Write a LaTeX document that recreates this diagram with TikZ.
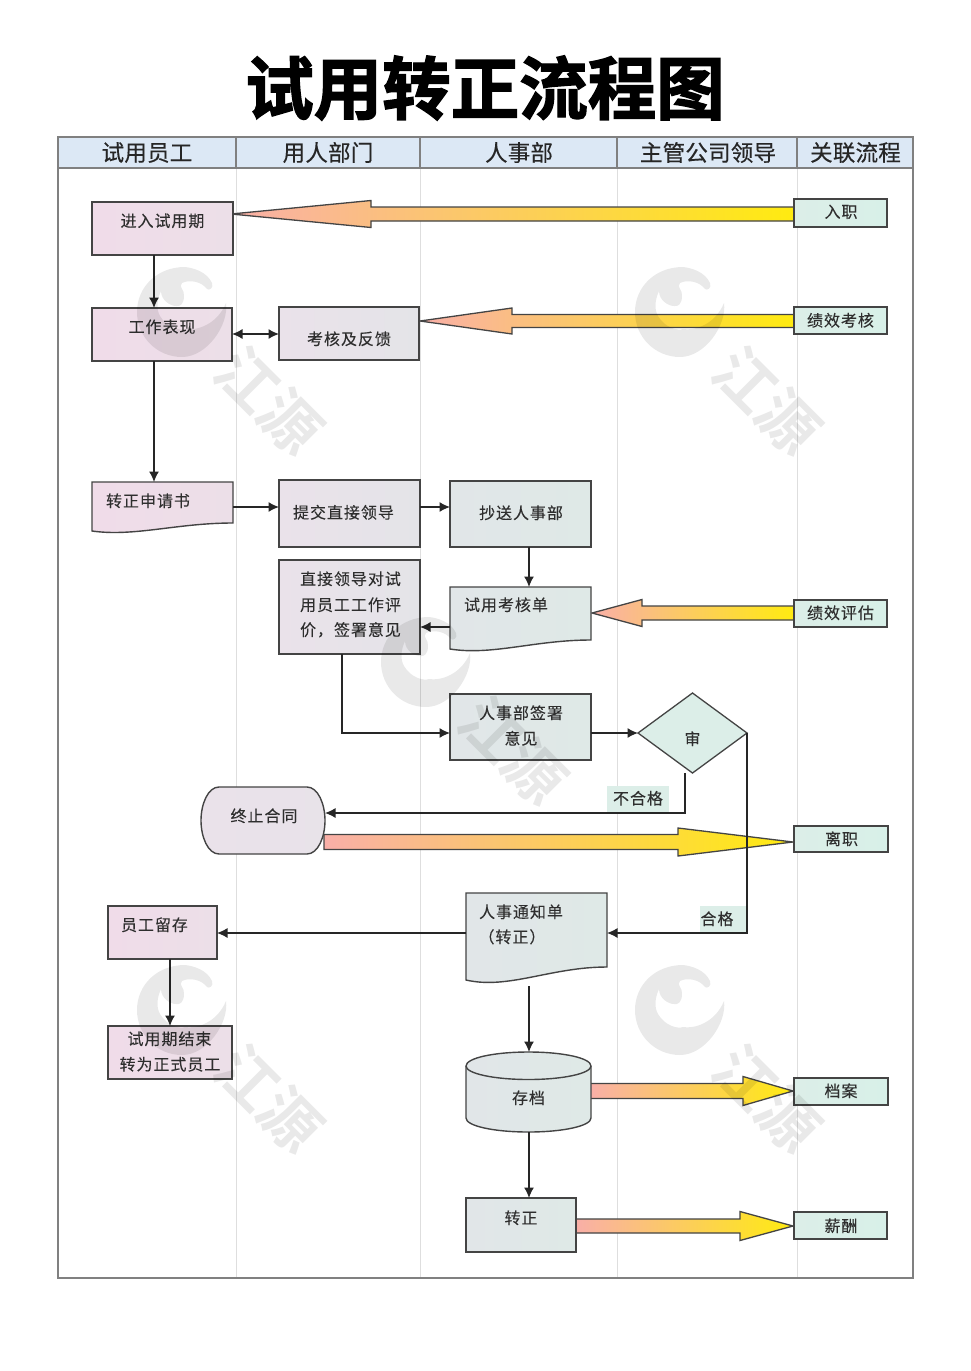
\documentclass[tikz,border=0pt]{standalone}
\usepackage{fontspec}
\usetikzlibrary{arrows.meta,shapes.geometric,calc}
\setmainfont{Noto Sans CJK SC}
\newfontfamily\titlefont[FakeBold=2]{Noto Sans CJK SC Bold}
\newfontfamily\headfont[LetterSpace=1,FakeBold=.35]{Noto Sans CJK SC}
\newfontfamily\bodyfont[LetterSpace=6,FakeBold=.1]{Noto Sans CJK SC}
\newfontfamily\markfont{Noto Sans CJK SC Bold}
\definecolor{lnk}{HTML}{444444}
\definecolor{txt}{HTML}{2E2E2E}
\definecolor{headbg}{HTML}{DCE8F5}
\definecolor{frame}{HTML}{808080}
\definecolor{lane}{HTML}{DEDEDE}
\definecolor{pkA}{HTML}{F0DCE9}
\definecolor{pkB}{HTML}{ECDFE8}
\definecolor{mdA}{HTML}{EAE2EA}
\definecolor{mdB}{HTML}{E4E4E8}
\definecolor{grA}{HTML}{E1E6E8}
\definecolor{grB}{HTML}{DFE9E7}
\definecolor{gnA}{HTML}{DCEEE8}
\definecolor{gnB}{HTML}{D8F0E8}
\definecolor{fatP}{HTML}{F9AFA8}
\definecolor{fatM}{HTML}{FDD27A}
\definecolor{fatY}{HTML}{FFEB10}
\tikzset{
  x=1pt,y=-1pt,
  boxn/.style={inner sep=0pt,outer sep=0pt},
  docline/.style={draw=lnk,line width=1.4pt,line join=miter},
  lab/.style={font=\bodyfont\fontsize{16}{17}\selectfont,text=txt,inner sep=0pt,yshift=.2pt},
  hdr/.style={font=\headfont\fontsize{22.5}{24}\selectfont,text=black!85,inner sep=0pt},
  tag/.style={fill=gnA,inner sep=0pt,outer sep=0pt},
  link/.style={draw=black!85,line width=1.25pt,-{Latex[length=10.5pt,width=10pt]}},
  fat/.style={draw=lnk,line width=1.3pt,left color=fatP,middle color=fatM,right color=fatY,line join=miter},
  wm/.style={fill=black,fill opacity=.085,draw=none},
}
% name, x1, y1, x2, y2, leftcolor, rightcolor
\newcommand\bx[7]{%
  \pgfmathsetmacro\bw{#4-#2}\pgfmathsetmacro\bh{#5-#3}%
  \pgfmathsetmacro\bcx{(#4+#2)/2}\pgfmathsetmacro\bcy{(#5+#3)/2}%
  \node[boxn,left color=#6,right color=#7,minimum width=\bw pt,minimum height=\bh pt] (#1) at (\bcx,\bcy) {};
  \draw[docline] (#1.north west) rectangle (#1.south east);}
% name, x1, y1, x2, yleft, yright, leftcolor, rightcolor
\newcommand\docn[8]{%
  \pgfmathsetmacro\bw{#4-#2}\pgfmathsetmacro\bh{#5-#3}%
  \pgfmathsetmacro\bcx{(#4+#2)/2}\pgfmathsetmacro\bcy{(#5+#3)/2}%
  \pgfmathsetmacro\cax{#2+.3*\bw}\pgfmathsetmacro\cbx{#2+.6*\bw}%
  \pgfmathsetmacro\cay{#5+.75*(#5-#6)}%
  \node[inner sep=0pt,outer sep=0pt,minimum width=\bw pt,minimum height=\bh pt] (#1) at (\bcx,\bcy) {};
  \shade[left color=#7,right color=#8] (#2,#3) -- (#4,#3) -- (#4,#6) .. controls (\cbx,#6) and (\cax,\cay) .. (#2,#5) -- cycle;
  \draw[docline] (#2,#3) -- (#4,#3) -- (#4,#6) .. controls (\cbx,#6) and (\cax,\cay) .. (#2,#5) -- cycle;}
% tip coord, tail coord, signed head length, head half height, shaft half height
\newcommand\fatarrow[5]{%
  \shade[fat] let \p1=(#1),\p2=(#2) in
    (\x1,\y1) -- (\x1+#3pt,\y1+#4pt) -- (\x1+#3pt,\y1+#5pt) -- (\x2,\y2+#5pt) --
    (\x2,\y2-#5pt) -- (\x1+#3pt,\y1-#5pt) -- (\x1+#3pt,\y1-#4pt) -- cycle;}
% watermark: swirl centred at #1,#2
\newcommand\watermark[3]{%
  \begin{scope}[shift={(#1,#2)}]
    \fill[wm] (44,-9) .. controls (47,13) and (25,45) .. (0,45)
      .. controls (-25,45) and (-45,25) .. (-45,0)
      .. controls (-45,-25) and (-25,-45) .. (3,-45)
      .. controls (12,-44) and (25,-40) .. (30,-29)
      .. controls (32,-24) and (27,-21) .. (25,-23)
      .. controls (20,-30) and (8,-33) .. (0,-29)
      .. controls (-4,-25) and (3,-22) .. (2,-16)
      .. controls (2,-8) and (-2,-5) .. (-6,-6)
      .. controls (-12,-6) and (-21,-12) .. (-21,-21)
      .. controls (-25,-12) and (-26,-3) .. (-22,4)
      .. controls (-15,16) and (-2,19) .. (3,17)
      .. controls (14,19) and (35,13) .. (44,-9) -- cycle;
    \node[rotate=-45,font=\markfont\fontsize{60}{62}\selectfont,text=black,text opacity=.085,inner sep=0pt] (#3) at (87,89) {江源};
  \end{scope}}
\begin{document}
\begin{tikzpicture}
\useasboundingbox (0,0) rectangle (970,1371);
\fill[white] (0,0) rectangle (970,1371);
% title
\node[font=\titlefont\fontsize{68.5}{70}\selectfont,text=black,inner sep=0pt] (title) at (485,88) {试用转正流程图};
% swimlanes
\coordinate (frameTL) at (58,137);
\coordinate (frameBR) at (913,1278);
\fill[headbg] (58,137) rectangle (913,168);
\foreach \lx in {236,420,617,797} \draw[lane,line width=1pt] (\lx,168) -- (\lx,1278);
\draw[frame,line width=1.3pt] (frameTL) rectangle (frameBR);
\draw[frame,line width=1.3pt] (58,168) -- (913,168);
\foreach \lx in {236,420,617,797} \draw[frame,line width=1.2pt] (\lx,137) -- (\lx,168);
\node[hdr] (h1) at (147,152.5) {试用员工};
\node[hdr] (h2) at (328,152.5) {用人部门};
\node[hdr] (h3) at (519,152.5) {人事部};
\node[hdr] (h4) at (708,152.5) {主管公司领导};
\node[hdr] (h5) at (855.5,152.5) {关联流程};
% coordinates for the fat arrows
\coordinate (t1) at (231,214); \coordinate (s1) at (795,214);
\coordinate (t2) at (420,321); \coordinate (s2) at (795,321);
\coordinate (t3) at (592,613); \coordinate (s3) at (795,613);
\coordinate (t4) at (793,842); \coordinate (s4) at (324,842);
\coordinate (t5) at (793,1091); \coordinate (s5) at (590,1091);
\coordinate (t6) at (793,1226); \coordinate (s6) at (576,1226);
\fatarrow{t1}{s1}{140}{13.5}{7}
\fatarrow{t2}{s2}{92}{13}{6.5}
\fatarrow{t3}{s3}{50}{13.5}{7}
\fatarrow{t4}{s4}{-115}{14}{7.5}
\fatarrow{t5}{s5}{-50}{14.5}{7.5}
\fatarrow{t6}{s6}{-53}{14.5}{7}
% column 1
\bx{entry}{92}{202}{233}{255}{pkA}{pkB}
\bx{work}{92}{308}{232}{361}{pkA}{pkB}
\docn{apply}{92}{482}{233}{531}{523}{pkA}{pkB}
\bx{keep}{108}{906}{217}{959}{pkA}{pkB}
\bx{finish}{108}{1026}{232}{1079}{pkA}{pkB}
% column 2
\bx{review}{279}{307}{419}{360}{mdA}{mdB}
\bx{submit}{279}{480}{420}{547}{mdA}{mdB}
\bx{assess}{279}{560}{420}{654}{mdA}{mdB}
\node[inner sep=0pt,outer sep=0pt,minimum width=124pt,minimum height=67pt] (stop) at (263,820.5) {};
\draw[docline,left color=mdA,right color=mdA!70!mdB] (219,787) -- (307,787) .. controls (318,787) and (325,804) .. (325,820.5) .. controls (325,837) and (318,854) .. (307,854) -- (219,854) .. controls (208,854) and (201,837) .. (201,820.5) .. controls (201,804) and (208,787) .. (219,787) -- cycle;
% column 3
\bx{copy}{450}{481}{591}{547}{grA}{grB}
\docn{form}{450}{587}{591}{649}{640}{grA}{grB}
\bx{hrsign}{450}{694}{591}{760}{grA}{grB}
\docn{notice}{466}{893}{607}{980}{967}{grA}{grB}
\bx{regular}{466}{1198}{576}{1252}{grA}{grB}
% archive cylinder
\node[inner sep=0pt,outer sep=0pt,minimum width=125pt,minimum height=80pt] (archive) at (528.5,1092) {};
\shade[left color=grA,right color=grB] (466,1066) -- (466,1118) .. controls (466,1126) and (494,1132) .. (528.5,1132) .. controls (563,1132) and (591,1126) .. (591,1118) -- (591,1066) .. controls (591,1058) and (563,1052) .. (528.5,1052) .. controls (494,1052) and (466,1058) .. (466,1066) -- cycle;
\draw[docline] (466,1066) -- (466,1118) .. controls (466,1126) and (494,1132) .. (528.5,1132) .. controls (563,1132) and (591,1126) .. (591,1118) -- (591,1066) .. controls (591,1058) and (563,1052) .. (528.5,1052) .. controls (494,1052) and (466,1058) .. (466,1066) -- cycle;
\draw[docline] (466,1066) .. controls (466,1073.5) and (494,1079.5) .. (528.5,1079.5) .. controls (563,1079.5) and (591,1073.5) .. (591,1066);
% decision
\node[diamond,draw=lnk,line width=1.3pt,fill=gnA,inner sep=0pt,outer sep=0pt,minimum width=109pt,minimum height=80pt,aspect=1.36] (check) at (692.5,733) {};
% right column
\bx{r1}{794}{199}{887}{227}{gnA}{gnB}
\bx{r2}{794}{307}{887}{334}{gnA}{gnB}
\bx{r3}{794}{600}{887}{627}{gnA}{gnB}
\bx{r4}{794}{826}{888}{852}{gnA}{gnB}
\bx{r5}{794}{1078}{888}{1105}{gnA}{gnB}
\bx{r6}{794}{1212}{887}{1239}{gnA}{gnB}
% edge labels (backgrounds)
\node[tag,minimum width=62pt,minimum height=27pt] (failbg) at (638,799.5) {};
\node[tag,minimum width=46pt,minimum height=27pt] (passbg) at (723,919.5) {};
% connectors
\draw[link] (154,0 |- entry.south) -- (154,0 |- work.north);
\draw[link] (154,0 |- work.south) -- (154,0 |- apply.north);
\draw[link,{Latex[length=10.5pt,width=10pt]}-{Latex[length=10.5pt,width=10pt]}] (work.east |- 0,334) -- (review.west |- 0,334);
\draw[link] (apply.east |- 0,507) -- (submit.west |- 0,507);
\draw[link] (submit.east |- 0,507) -- (copy.west |- 0,507);
\draw[link] (529,0 |- copy.south) -- (529,0 |- form.north);
\draw[link] (form.west |- 0,627) -- (assess.east |- 0,627);
\draw[link] (342,0 |- assess.south) |- (hrsign.west |- 0,733);
\draw[link] (hrsign.east |- 0,733) -- (check.west);
\draw[link] (685,773) |- (stop.east |- 0,813);
\draw[link] (check.east) |- (notice.east |- 0,933);
\draw[link] (notice.west |- 0,933) -- (keep.east |- 0,933);
\draw[link] (170,0 |- keep.south) -- (170,0 |- finish.north);
\coordinate (noticeOut) at (529,986);
\draw[link] (noticeOut) -- (529,0 |- archive.north);
\draw[link] (529,0 |- archive.south) -- (529,0 |- regular.north);
% texts
\node[lab] (l1) at (162.5,221) {进入试用期};
\node[lab] (l2) at (162,327) {工作表现};
\node[lab] (l3) at (349,339) {考核及反馈};
\node[lab] (l4) at (148,501) {转正申请书};
\node[lab] (l5) at (343.5,512.5) {提交直接领导};
\node[lab] (l6) at (521,513) {抄送人事部};
\node[lab] (l7a) at (350.5,579) {直接领导对试};
\node[lab] (l7b) at (350.5,605) {用员工工作评};
\node[lab] (l7c) at (350.5,630) {价，签署意见};
\node[lab] (l8) at (506,605) {试用考核单};
\node[lab] (l9a) at (521,713) {人事部签署};
\node[lab] (l9b) at (521,738.5) {意见};
\node[lab] (l10) at (692.5,739) {审};
\node[lab] (l11) at (638,798.5) {不合格};
\node[lab] (l12) at (264,816) {终止合同};
\node[lab] (l13) at (717,919) {合格};
\node[lab] (l14) at (154.5,925) {员工留存};
\node[lab] (l15a) at (521,912) {人事通知单};
\node[lab] (l15b) at (512,937) {（转正）};
\node[lab] (l16a) at (169.5,1039) {试用期结束};
\node[lab] (l16b) at (170,1064.5) {转为正式员工};
\node[lab] (l17) at (528.5,1098) {存档};
\node[lab] (l18) at (521,1218) {转正};
\node[lab] (r1t) at (841,212) {入职};
\node[lab] (r2t) at (840.5,320.5) {绩效考核};
\node[lab] (r3t) at (840.5,613) {绩效评估};
\node[lab] (r4t) at (841.5,839) {离职};
\node[lab] (r5t) at (841,1091) {档案};
\node[lab] (r6t) at (841,1226) {薪酬};
% watermarks
\watermark{182}{312}{w1}
\watermark{680}{312}{w2}
\watermark{426}{662}{w3}
\watermark{182}{1010}{w4}
\watermark{680}{1010}{w5}
\end{tikzpicture}
\end{document}
